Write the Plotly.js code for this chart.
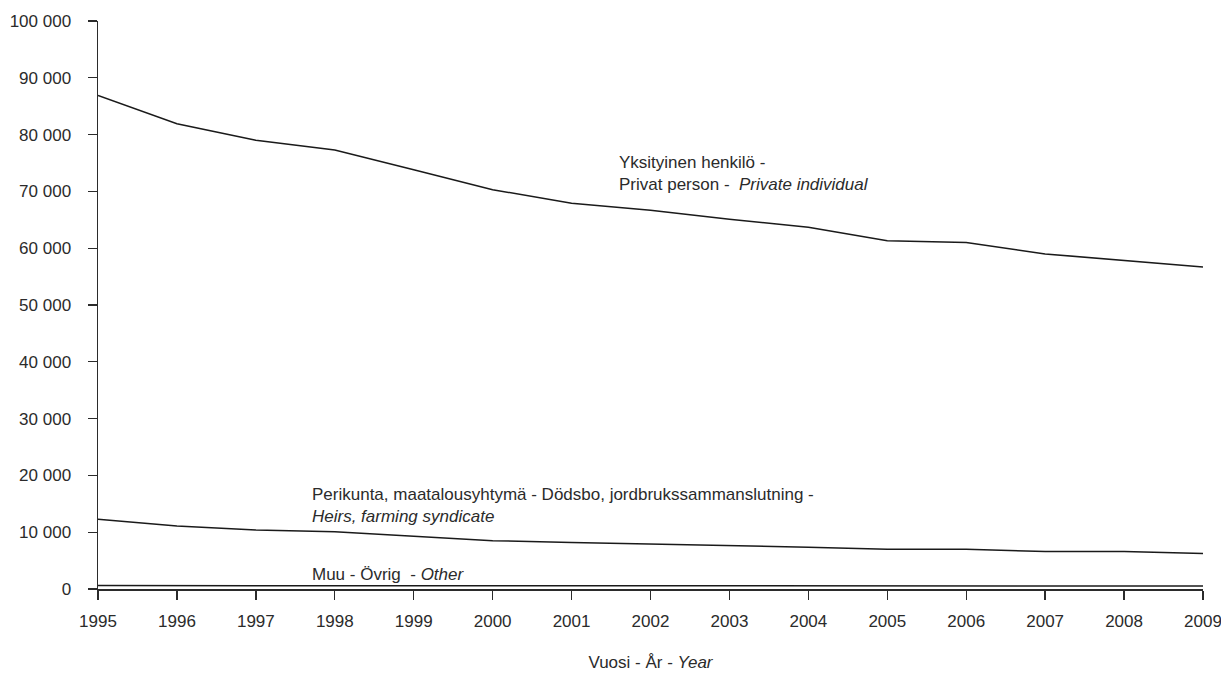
<!DOCTYPE html>
<html>
<head>
<meta charset="utf-8">
<script src="https://cdn.plot.ly/plotly-3.0.1.min.js"></script>
<style>
  html, body { margin: 0; padding: 0; background: #fff; }
  #chart { width: 1221px; height: 673px; }
</style>
</head>
<body>
<div id="chart"></div>
<script>
const years = [1995, 1996, 1997, 1998, 1999, 2000, 2001, 2002, 2003, 2004, 2005, 2006, 2007, 2008, 2009];
const privateIndividual = [86900, 81900, 79000, 77300, 73800, 70300, 67900, 66700, 65100, 63700, 61300, 61000, 59000, 57900, 56700];
const heirsSyndicate = [12300, 11100, 10400, 10100, 9300, 8500, 8200, 7950, 7650, 7350, 7000, 7000, 6600, 6600, 6250];
const other = [600, 600, 600, 600, 600, 580, 580, 560, 560, 550, 550, 550, 530, 530, 520];

const seriesNames = ["Yksityinen henkilö - Privat person - Private individual",
                     "Perikunta, maatalousyhtymä - Dödsbo, jordbrukssammanslutning - Heirs, farming syndicate",
                     "Muu - Övrig - Other"];
const labelPrivate = "Yksityinen henkilö -<br>Privat person -  <i>Private individual</i>";
const labelHeirs = "Perikunta, maatalousyhtymä - Dödsbo, jordbrukssammanslutning -<br><i>Heirs, farming syndicate</i>";
const labelOther = "Muu - Övrig  - <i>Other</i>";
const xTitle = "Vuosi - År - <i>Year</i>";

const FONT = "'Liberation Sans', Arial, sans-serif";
const TXT = "#2b2b2b";
const FS = 17;
const lineStyle = { color: "#1a1a1a", width: 1.5 };

const traces = [privateIndividual, heirsSyndicate, other].map((vals, i) => ({
  x: years, y: vals, type: "scatter", mode: "lines", name: seriesNames[i],
  line: lineStyle, hoverinfo: "x+y"
}));

const layout = {
  width: 1221, height: 673,
  margin: { l: 98, r: 18, t: 21, b: 84 },
  paper_bgcolor: "#fff", plot_bgcolor: "#fff",
  showlegend: false,
  separators: ". ",
  font: { family: FONT, size: FS, color: TXT },
  xaxis: {
    range: [1995, 2009], tickvals: years, ticktext: years.map(String),
    showgrid: false, zeroline: false, showline: true, linecolor: "#2b2b2b", linewidth: 1.5,
    ticks: "outside", ticklen: 9, tickwidth: 1.3, tickcolor: "#2b2b2b",
    ticklabeloverflow: "allow",
    ticklabelstandoff: 7,
    tickfont: { family: FONT, size: FS, color: TXT },
    title: { text: xTitle, font: { family: FONT, size: FS, color: TXT }, standoff: 26 }
  },
  yaxis: {
    range: [0, 100000], dtick: 10000, tickformat: ",d",
    showgrid: false, zeroline: false, showline: true, linecolor: "#2b2b2b", linewidth: 1.5,
    ticks: "outside", ticklen: 9, tickwidth: 1.3, tickcolor: "#2b2b2b",
    ticklabelstandoff: 13,
    tickfont: { family: FONT, size: FS, color: TXT }
  },
  annotations: [
    { text: labelPrivate, x: 2001.58, y: 73200, xref: "x", yref: "y", xanchor: "left", yanchor: "middle",
      showarrow: false, align: "left", font: { family: FONT, size: FS, color: TXT } },
    { text: labelHeirs, x: 1997.68, y: 14700, xref: "x", yref: "y", xanchor: "left", yanchor: "middle",
      showarrow: false, align: "left", font: { family: FONT, size: FS, color: TXT } },
    { text: labelOther, x: 1997.68, y: 2500, xref: "x", yref: "y", xanchor: "left", yanchor: "middle",
      showarrow: false, align: "left", font: { family: FONT, size: FS, color: TXT } }
  ]
};

Plotly.newPlot("chart", traces, layout, { displayModeBar: false, staticPlot: true });
</script>
</body>
</html>
